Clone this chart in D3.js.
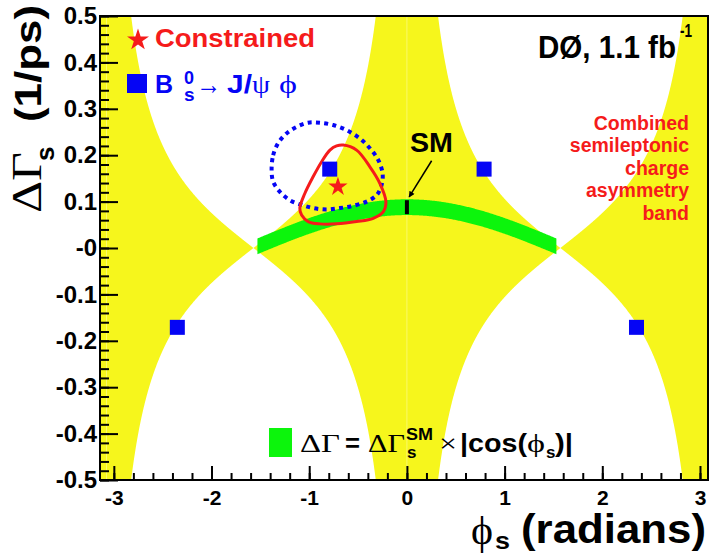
<!DOCTYPE html>
<html>
<head>
<meta charset="utf-8">
<script src="https://cdn.jsdelivr.net/npm/d3@7"></script>
<style>
body { margin: 0; background: #fff; }
text { font-family: "Liberation Sans", Arial, sans-serif; font-weight: bold; }
text.serif, tspan.serif { font-family: "Liberation Serif", "DejaVu Serif", serif; font-weight: normal; }
</style>
</head>
<body>
<svg id="chart" width="710" height="554"></svg>
<script>
// ---- values ----
// B_s -> J/psi phi fit, the four ambiguous solutions (blue squares)
var jpsiPhi = [-0.79, 0.79, -2.35, 2.35];
var jpsiDG  = [0.170, 0.170, -0.171, -0.171];
// constrained fit (red star)
var conPhi = [-0.706];
var conDG  = [0.132];
// dotted blue contour (J/psi phi alone)
var bluePhi = [-1.385, -1.369, -1.318, -1.232, -1.129, -1.011, -0.891, -0.755, -0.617, -0.481, -0.379, -0.294,
               -0.249, -0.259, -0.310, -0.413, -0.550, -0.686, -0.822, -0.959, -1.078, -1.198, -1.300, -1.369];
var blueDG  = [0.168, 0.200, 0.226, 0.247, 0.261, 0.270, 0.270, 0.265, 0.254, 0.236, 0.215, 0.190,
               0.161, 0.136, 0.114, 0.100, 0.091, 0.086, 0.083, 0.086, 0.093, 0.103, 0.121, 0.143];
// solid red contour (constrained)
var redPhi = [-0.652, -0.515, -0.379, -0.276, -0.215, -0.243, -0.345, -0.515, -0.720, -0.891, -1.011, -1.078,
              -1.096, -1.044, -0.959, -0.873, -0.788, -0.720];
var redDG  = [0.222, 0.211, 0.175, 0.139, 0.100, 0.078, 0.064, 0.057, 0.052, 0.052, 0.057, 0.071,
              0.086, 0.118, 0.154, 0.186, 0.211, 0.220];
// semileptonic charge asymmetry band: dGamma*tan(phi) = centre +- half width
var asymBand = [0.0, 0.165];
// SM expectation: dGamma_SM and its error, and the phi range of the green band
var smBand = [0.088, 0.017];
var smPhiRange = [-1.53, 1.53];
// arrow from "SM" label to the SM point
var smArrowPhi = [0.253, 0.023];
var smArrowDG  = [0.188, 0.110];
// fill seams visible in the yellow band
var seamPhi = [-3.075, 0];

var xTicks = [-3, -2, -1, 0, 1, 2, 3];
var xTickLabels = ["-3", "-2", "-1", "0", "1", "2", "3"];
var yTicks = [-0.5, -0.4, -0.3, -0.2, -0.1, 0, 0.1, 0.2, 0.3, 0.4, 0.5];
var yTickLabels = ["-0.5", "-0.4", "-0.3", "-0.2", "-0.1", "-0", "0.1", "0.2", "0.3", "0.4", "0.5"];
var xMinorStep = 0.2, yMinorStep = 0.02;

var yellow = "#f6f61c", green = "#0cf50c", blue = "#0505f5", red = "#f51b1b";

// ---- frame and scales ----
var svg = d3.select("#chart");
var L = 100, T = 16, R = 708, B = 480;
var x = d3.scaleLinear().domain([-Math.PI, 3.082]).range([L, R]);
var y = d3.scaleLinear().domain([-0.5, 0.5]).range([B, T]);

svg.append("clipPath").attr("id", "plotclip")
  .append("rect").attr("x", L).attr("y", T).attr("width", R - L).attr("height", B - T);
var plot = svg.append("g").attr("clip-path", "url(#plotclip)");

// yellow asymmetry band
function asymRange(p) {
  var t = Math.tan(p);
  if (Math.abs(t) < 1e-6) return [-1, 1];
  var a = (asymBand[0] - asymBand[1]) / t, b = (asymBand[0] + asymBand[1]) / t;
  return [Math.max(-1, Math.min(a, b)), Math.min(1, Math.max(a, b))];
}
var phiGrid = d3.range(-Math.PI, Math.PI + 1e-9, 0.002);
plot.append("path")
  .datum(phiGrid)
  .attr("fill", yellow)
  .attr("d", d3.area()
    .x(function(p){ return x(p); })
    .y0(function(p){ return y(asymRange(p)[0]); })
    .y1(function(p){ return y(asymRange(p)[1]); }));

plot.selectAll("line.seam").data(seamPhi).enter().append("line")
  .attr("class", "seam")
  .attr("x1", function(d){ return x(d); }).attr("x2", function(d){ return x(d); })
  .attr("y1", T).attr("y2", B)
  .attr("stroke", "#fff").attr("stroke-opacity", 0.35).attr("stroke-width", 1);

// green SM band
var smGrid = d3.range(smPhiRange[0], smPhiRange[1] + 1e-9, 0.01);
plot.append("path")
  .datum(smGrid)
  .attr("fill", green)
  .attr("d", d3.area()
    .x(function(p){ return x(p); })
    .y0(function(p){ return y(smBand[0] * Math.abs(Math.cos(p)) - smBand[1]); })
    .y1(function(p){ return y(smBand[0] * Math.abs(Math.cos(p)) + smBand[1]); }));

// SM point marker
plot.append("line")
  .attr("x1", x(0)).attr("x2", x(0))
  .attr("y1", y(smBand[0] - smBand[1] + 0.002)).attr("y2", y(smBand[0] + smBand[1] - 0.002))
  .attr("stroke", "#000").attr("stroke-width", 4);

// contours
var contour = d3.line()
  .x(function(d){ return x(d[0]); })
  .y(function(d){ return y(d[1]); })
  .curve(d3.curveCatmullRomClosed.alpha(0.5));

plot.append("path")
  .datum(d3.zip(bluePhi, blueDG))
  .attr("d", contour)
  .attr("fill", "none").attr("stroke", blue)
  .attr("stroke-width", 4).attr("stroke-dasharray", "4,4.3");

plot.append("path")
  .datum(d3.zip(redPhi, redDG))
  .attr("d", contour)
  .attr("fill", "none").attr("stroke", red)
  .attr("stroke-width", 3).attr("stroke-linejoin", "round");

// blue squares
plot.selectAll("rect.sol").data(d3.zip(jpsiPhi, jpsiDG)).enter().append("rect")
  .attr("class", "sol")
  .attr("x", function(d){ return x(d[0]) - 7.5; })
  .attr("y", function(d){ return y(d[1]) - 7.5; })
  .attr("width", 15).attr("height", 15)
  .attr("fill", blue);

// red star
plot.selectAll("path.star").data(d3.zip(conPhi, conDG)).enter().append("path")
  .attr("class", "star")
  .attr("transform", function(d){ return "translate(" + x(d[0]) + "," + y(d[1]) + ")"; })
  .attr("d", d3.symbol().type(d3.symbolStar).size(115))
  .attr("fill", red);

// arrow to SM
svg.append("defs").append("marker")
  .attr("id", "head").attr("viewBox", "0 0 10 10")
  .attr("refX", 9).attr("refY", 5)
  .attr("markerWidth", 7).attr("markerHeight", 6)
  .attr("markerUnits", "userSpaceOnUse")
  .attr("orient", "auto")
  .append("path").attr("d", "M0,0L10,5L0,10Z").attr("fill", "#000");
svg.append("line")
  .attr("x1", x(smArrowPhi[0])).attr("y1", y(smArrowDG[0]))
  .attr("x2", x(smArrowPhi[1])).attr("y2", y(smArrowDG[1]))
  .attr("stroke", "#000").attr("stroke-width", 1.5)
  .attr("marker-end", "url(#head)");

// ---- frame and axes ----
svg.append("rect")
  .attr("x", L).attr("y", T).attr("width", R - L).attr("height", B - T)
  .attr("fill", "none").attr("stroke", "#000").attr("stroke-width", 2);

var yMinor = d3.range(-0.5, 0.5001, yMinorStep);
var xMinor = d3.range(-3.2, 3.2001, xMinorStep).filter(function(v){ return v >= x.domain()[0] && v <= x.domain()[1]; });

svg.append("g").attr("transform", "translate(" + L + ",0)")
  .call(d3.axisLeft(y).tickValues(yMinor).tickFormat("").tickSizeInner(-9).tickSizeOuter(0))
  .call(function(g){ g.select(".domain").remove(); g.selectAll("line").attr("stroke-width", 2); });
svg.append("g").attr("transform", "translate(" + L + ",0)")
  .call(d3.axisLeft(y).tickValues(yTicks)
    .tickFormat(function(d, i){ return yTickLabels[i]; })
    .tickSizeInner(-18).tickSizeOuter(0).tickPadding(3))
  .call(function(g){
    g.select(".domain").remove();
    g.selectAll("line").attr("stroke-width", 2);
    g.selectAll("text").attr("font-size", 24).attr("fill", "#000");
  });

svg.append("g").attr("transform", "translate(0," + B + ")")
  .call(d3.axisBottom(x).tickValues(xMinor).tickFormat("").tickSizeInner(-7).tickSizeOuter(0))
  .call(function(g){ g.select(".domain").remove(); g.selectAll("line").attr("stroke-width", 2); });
svg.append("g").attr("transform", "translate(0," + B + ")")
  .call(d3.axisBottom(x).tickValues(xTicks)
    .tickFormat(function(d, i){ return xTickLabels[i]; })
    .tickSizeInner(-14).tickSizeOuter(0).tickPadding(10))
  .call(function(g){
    g.select(".domain").remove();
    g.selectAll("line").attr("stroke-width", 2);
    g.selectAll("text").attr("font-size", 21).attr("fill", "#000");
  });
svg.selectAll("g.tick text").attr("font-family", null);
d3.selectAll("svg > g[font-family]").attr("font-family", null).attr("font-size", null);

// ---- text ----
function txt(px, py, str, size, fill, opts) {
  opts = opts || {};
  var t = svg.append("text").attr("x", px).attr("y", py)
    .attr("font-size", size).attr("fill", fill || "#000").text(str);
  if (opts.serif) t.attr("class", "serif");
  if (opts.len) t.attr("textLength", opts.len).attr("lengthAdjust", "spacingAndGlyphs");
  if (opts.anchor) t.attr("text-anchor", opts.anchor);
  return t;
}

// legend: constrained
svg.append("path")
  .attr("transform", "translate(138,40)")
  .attr("d", d3.symbol().type(d3.symbolStar).size(150))
  .attr("fill", red);
txt(155, 46.5, "Constrained", 26, red, {len: 160});

// legend: Bs -> J/psi phi
svg.append("rect").attr("x", 127).attr("y", 74).attr("width", 20).attr("height", 19).attr("fill", blue);
txt(155, 92.7, "B", 25, blue);
txt(184, 84, "0", 18, blue);
txt(184, 101, "s", 19, blue);
txt(196, 94, "\u2192", 28, blue, {serif: true, len: 25});
txt(227, 92.7, "J/", 25, blue, {len: 25});
txt(252, 92.7, "\u03c8", 26, blue, {serif: true, len: 18});
txt(279, 92.7, "\u03d5", 26, blue, {serif: true, len: 18});

// experiment label
txt(538, 58.3, "D\u00d8, 1.1 fb", 31, "#000", {len: 138});
txt(680, 37, "-1", 18, "#000", {len: 12});

// SM label
txt(410, 151.7, "SM", 28, "#000", {len: 43});

// asymmetry band label
var bandLines = ["Combined", "semileptonic", "charge", "asymmetry", "band"];
var bandBase = [129.5, 152, 174.5, 197, 219.5];
bandLines.forEach(function(s, i){ txt(689, bandBase[i], s, 19.5, red, {anchor: "end"}); });

// bottom legend: green band
svg.append("rect").attr("x", 269).attr("y", 428).attr("width", 23).attr("height", 29).attr("fill", green);
txt(300, 452, "\u0394\u0393", 26, "#000", {serif: true, len: 40});
txt(345, 452, "=", 26, "#000", {len: 15});
txt(368, 452, "\u0394\u0393", 26, "#000", {serif: true, len: 37});
txt(406, 440, "SM", 17, "#000", {len: 27});
txt(407, 458, "s", 17, "#000");
txt(439, 452, "\u00d7", 26, "#000", {serif: true, len: 18});
txt(460, 452, "|cos(", 25, "#000", {len: 67});
txt(527, 452, "\u03d5", 26, "#000", {serif: true, len: 18});
txt(546, 458, "s", 17, "#000");
txt(555, 452, ")|", 25, "#000", {len: 18});

// x axis title
txt(471, 544, "\u03d5", 40, "#000", {serif: true, len: 22});
txt(495, 549, "s", 24, "#000", {len: 15});
txt(521, 543, "(radians)", 40, "#000", {len: 185});

// y axis title (rotated)
var yt = svg.append("g").attr("transform", "translate(41,213) rotate(-90)");
yt.append("text").attr("class", "serif").attr("x", 0).attr("y", 0)
  .attr("font-size", 42).attr("textLength", 61).attr("lengthAdjust", "spacingAndGlyphs")
  .text("\u0394\u0393");
yt.append("text").attr("x", 52).attr("y", 13).attr("font-size", 26).text("s");
yt.append("text").attr("x", 91).attr("y", 0)
  .attr("font-size", 36).attr("textLength", 117).attr("lengthAdjust", "spacingAndGlyphs")
  .text("(1/ps)");
</script>
</body>
</html>
